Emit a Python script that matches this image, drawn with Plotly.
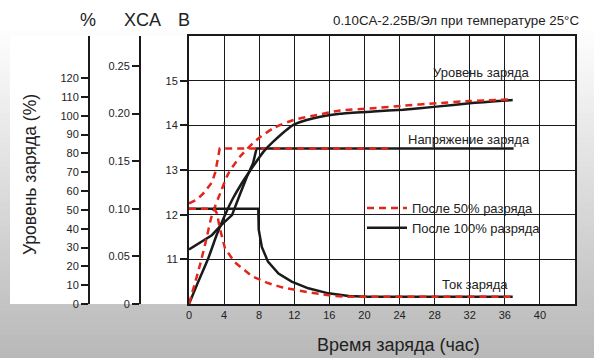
import plotly.graph_objects as go

# ---------------- data ----------------
# time in hours
v100_t = [0, 1.45, 2.6, 3.7, 4.9, 5.8, 6.6, 7.3, 7.7, 37]
v100_v = [11.22, 11.39, 11.54, 11.77, 11.99, 12.45, 12.85, 13.15, 13.48, 13.48]

v50_t = [0, 1.0, 1.8, 2.6, 3.0, 3.3, 3.5, 22.7]
v50_v = [12.25, 12.35, 12.51, 12.72, 12.95, 13.25, 13.48, 13.48]

c100_t = [0, 1.06, 2.2, 3.15, 4.1, 5.0, 6.0, 7.0, 8.5, 9.6, 11.9, 14.2, 17.2, 21.0, 24.4, 28.2, 32.0, 36.9]
c100_p = [0, 11.9, 24.3, 36.6, 47.3, 56.0, 64.0, 71.0, 80.9, 86.2, 95.1, 98.6, 101.0, 102.2, 103.2, 104.8, 106.6, 108.3]

c50_t = [0, 1.25, 2.0, 2.6, 3.7, 4.5, 5.8, 7.7, 9.6, 11.9, 14.6, 17.2, 21.0, 24.4, 28.2, 32.0, 36.9]
c50_p = [0, 20.7, 34.9, 47.0, 60.5, 69.4, 78.2, 87.1, 93.3, 97.7, 100.4, 102.7, 103.9, 105.3, 106.6, 107.8, 108.6]

i100_t = [0, 7.9, 7.95, 8.3, 9.0, 10.2, 11.7, 13.6, 15.9, 18.2, 20.4, 36.9]
i100_i = [0.10, 0.10, 0.078, 0.060, 0.0445, 0.032, 0.0235, 0.0165, 0.0112, 0.0084, 0.0075, 0.0075]

i50_t = [0, 2.9, 3.2, 3.5, 4.1, 5.2, 7.2, 9.0, 10.6, 12.1, 13.6, 15.1, 16.6, 18.1, 20.6, 36.9]
i50_i = [0.10, 0.10, 0.095, 0.080, 0.0585, 0.044, 0.029, 0.022, 0.0175, 0.0147, 0.0123, 0.0102, 0.0085, 0.0076, 0.0075, 0.0075]

x_ticks = [0, 4, 8, 12, 16, 20, 24, 28, 32, 36, 40]
v_ticks = [11, 12, 13, 14, 15]
p_ticks = [0, 10, 20, 30, 40, 50, 60, 70, 80, 90, 100, 110, 120]
i_ticks = [0, 0.05, 0.10, 0.15, 0.20, 0.25]
i_tick_text = ["0", "0.05", "0.10", "0.15", "0.20", "0.25"]

legend_50 = "После 50% разряда"
legend_100 = "После 100% разряда"

# ---------------- style ----------------
W, H = 594, 358
ML, MR, MT, MB = 10, 19, 36, 54
PW, PH = W - ML - MR, H - MT - MB
RED = "#e2261c"
BLK = "#1a1a1a"
FONT = "Arial, Liberation Sans, sans-serif"
TICKFONT = "Liberation Sans Narrow, Arial Narrow, Liberation Sans, Arial, sans-serif"
DASH = "7px,5px"

def px_x(X):
    return (X - ML) / PW

def px_y(Y):
    return (MT + PH - Y) / PH

fig = go.Figure()

# solid (100%) curves
fig.add_trace(go.Scatter(x=c100_t, y=c100_p, yaxis="y2", mode="lines",
                         line=dict(color=BLK, width=2.5, shape="spline", smoothing=0.6),
                         showlegend=False, hoverinfo="skip"))
fig.add_trace(go.Scatter(x=i100_t, y=i100_i, yaxis="y3", mode="lines",
                         line=dict(color=BLK, width=2.5),
                         showlegend=False, hoverinfo="skip"))
fig.add_trace(go.Scatter(x=v100_t, y=v100_v, yaxis="y", mode="lines",
                         line=dict(color=BLK, width=2.5),
                         name=legend_100, legendrank=2, showlegend=True, hoverinfo="skip"))
# dashed (50%) curves
fig.add_trace(go.Scatter(x=c50_t, y=c50_p, yaxis="y2", mode="lines",
                         line=dict(color=RED, width=2.5, dash=DASH, shape="spline", smoothing=0.6),
                         showlegend=False, hoverinfo="skip"))
fig.add_trace(go.Scatter(x=i50_t, y=i50_i, yaxis="y3", mode="lines",
                         line=dict(color=RED, width=2.5, dash=DASH),
                         showlegend=False, hoverinfo="skip"))
fig.add_trace(go.Scatter(x=v50_t, y=v50_v, yaxis="y", mode="lines",
                         line=dict(color=RED, width=2.5, dash=DASH),
                         name=legend_50, legendrank=1, showlegend=True, hoverinfo="skip"))

# gradient background bands
shapes = []
n = 60
for k in range(n):
    Y0 = H * k / n
    Y1 = H * (k + 1) / n + 0.5
    Ym = (Y0 + Y1) / 2
    if Ym < 25:
        g = 255
    else:
        g = int(round(255 - (Ym - 25) / (H - 25) * (255 - 184)))
    shapes.append(dict(type="rect", xref="paper", yref="paper", layer="below",
                       x0=px_x(-5), x1=px_x(W + 5), y0=px_y(Y1), y1=px_y(Y0),
                       fillcolor=f"rgb({g},{g},{g})", line=dict(width=0)))
shapes.append(dict(type="rect", xref="paper", yref="paper", layer="below",
                   x0=0, x1=1, y0=0, y1=1, fillcolor="white", line=dict(width=0)))

tickfont = dict(family=TICKFONT, size=11, color="#222")
annotations = [
    dict(text="0.10CA-2.25В/Эл при температуре 25°C", xref="paper", yref="paper",
         x=px_x(581), y=px_y(20), xanchor="right", yanchor="middle", showarrow=False,
         font=dict(family=FONT, size=13.3, color="#222")),
    dict(text="%", xref="paper", yref="paper", x=px_x(88), y=px_y(20),
         xanchor="center", yanchor="middle", showarrow=False,
         font=dict(family=FONT, size=18, color="#222")),
    dict(text="XCA", xref="paper", yref="paper", x=px_x(142), y=px_y(20),
         xanchor="center", yanchor="middle", showarrow=False,
         font=dict(family=FONT, size=18, color="#222")),
    dict(text="В", xref="paper", yref="paper", x=px_x(184), y=px_y(20),
         xanchor="center", yanchor="middle", showarrow=False,
         font=dict(family=FONT, size=18, color="#222")),
    dict(text="Уровень заряда (%)", xref="paper", yref="paper", x=px_x(30), y=px_y(175),
         xanchor="center", yanchor="middle", textangle=-90, showarrow=False,
         font=dict(family=FONT, size=17.5, color="#222")),
    dict(text="Время заряда (час)", xref="paper", yref="paper", x=px_x(398), y=px_y(345),
         xanchor="center", yanchor="middle", showarrow=False,
         font=dict(family=FONT, size=18, color="#222")),
    dict(text="Уровень заряда", xref="x", yref="y", x=33.3, y=15.19,
         xanchor="center", yanchor="middle", showarrow=False,
         font=dict(family=FONT, size=13, color="#222")),
    dict(text="Напряжение заряда", xref="x", yref="y", x=31.97, y=13.69,
         xanchor="center", yanchor="middle", showarrow=False,
         font=dict(family=FONT, size=13, color="#222")),
    dict(text="Ток заряда", xref="x", yref="y", x=32.6, y=10.43,
         xanchor="center", yanchor="middle", showarrow=False,
         font=dict(family=FONT, size=13, color="#222")),
]

fig.update_layout(
    template="none",
    width=W, height=H,
    margin=dict(l=ML, r=MR, t=MT, b=MB, autoexpand=False),
    paper_bgcolor="rgb(220,220,220)",
    plot_bgcolor="white",
    font=dict(family=FONT, color="#222"),
    shapes=shapes,
    annotations=annotations,
    xaxis=dict(domain=[px_x(189), 1], range=[0, 44], tickvals=x_ticks, automargin=False,
               showgrid=True, gridcolor=BLK, gridwidth=1.3,
               showline=True, linecolor=BLK, linewidth=2, mirror=True,
               ticks="", tickfont=tickfont, zeroline=False, fixedrange=True),
    yaxis=dict(range=[10, 16], tickvals=v_ticks, showgrid=True, gridcolor=BLK, gridwidth=1.3,
               automargin=False,
               showline=True, linecolor=BLK, linewidth=2, mirror=True,
               ticks="outside", ticklen=7, tickwidth=1.5, tickcolor=BLK,
               tickfont=tickfont, zeroline=False),
    yaxis2=dict(range=[0, 142.3], tickvals=p_ticks, overlaying="y", anchor="free",
                position=px_x(89), side="left", showgrid=False, zeroline=False,
                automargin=False,
                showline=True, linecolor=BLK, linewidth=2,
                ticks="outside", ticklen=7, tickwidth=1.5, tickcolor=BLK,
                tickfont=tickfont),
    yaxis3=dict(range=[0, 0.2815], tickvals=i_ticks, ticktext=i_tick_text, overlaying="y",
                anchor="free", position=px_x(140), side="left", showgrid=False, zeroline=False,
                automargin=False,
                showline=True, linecolor=BLK, linewidth=2,
                ticks="outside", ticklen=7, tickwidth=1.5, tickcolor=BLK,
                tickfont=tickfont),
    legend=dict(x=px_x(362), y=px_y(193), xanchor="left", yanchor="top",
                bgcolor="rgba(0,0,0,0)", borderwidth=0, itemwidth=40,
                font=dict(family=FONT, size=13, color="#222"), tracegroupgap=0),
    showlegend=True,
)

fig.write_html("out.html", config={"displayModeBar": False},
               post_script="document.body.style.margin='0px';document.body.style.overflow='hidden';")
